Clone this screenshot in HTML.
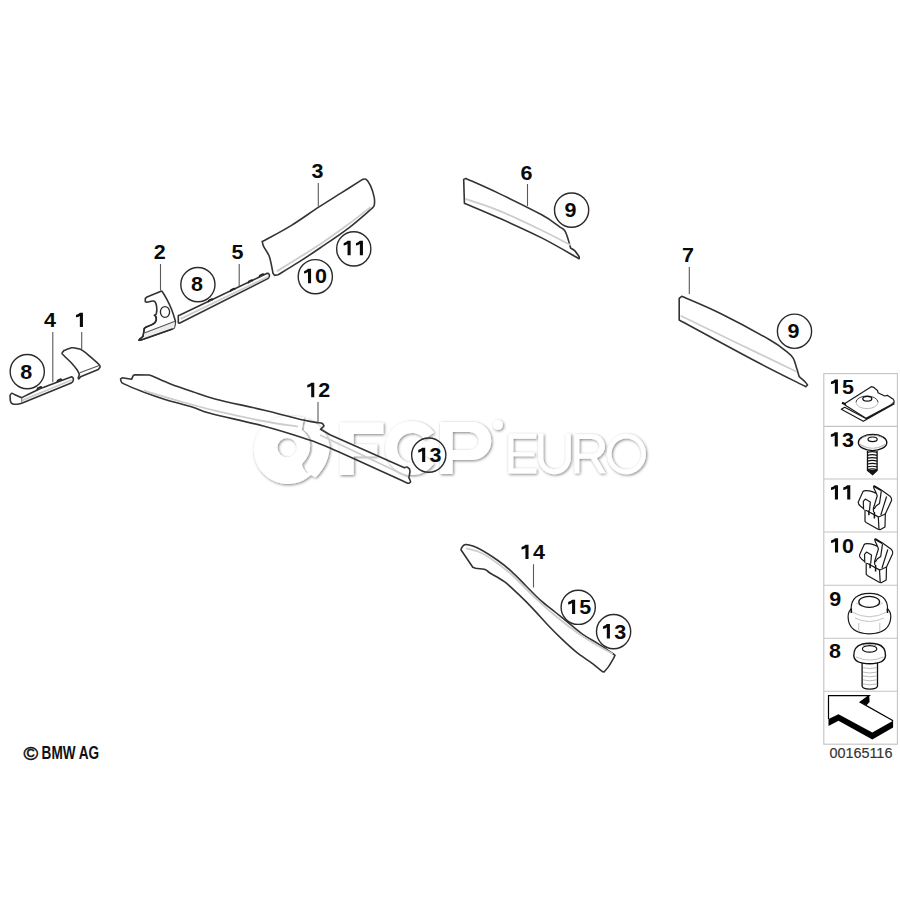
<!DOCTYPE html>
<html><head><meta charset="utf-8">
<style>
html,body{margin:0;padding:0;background:#fff;width:900px;height:900px;overflow:hidden}
svg{display:block}
.n{font-family:"Liberation Sans",sans-serif;font-weight:bold;font-size:20.5px;fill:#0a0a0a}
.ol{fill:none;stroke:#333;stroke-width:1.6;stroke-linejoin:round;stroke-linecap:round}
.ol0{fill:none;stroke:#2a2a2a;stroke-width:1.5;stroke-linejoin:round;stroke-linecap:round}
.il{fill:none;stroke:#cdcdcd;stroke-width:1.8}
.il2{fill:none;stroke:#777;stroke-width:1}
.il3{fill:none;stroke:#555;stroke-width:1.1}
.bm{fill:none;stroke:#333;stroke-width:1.6;stroke-linecap:round}
.ld{fill:none;stroke:#5a5a5a;stroke-width:1.1}
.ci{fill:none;stroke:#2a2a2a;stroke-width:1.4}
.tb{fill:none;stroke:#c4c4c4;stroke-width:1.1}
.io{fill:#fff;stroke:#1a1a1a;stroke-width:1.2;stroke-linejoin:round}
.th{fill:none;stroke:#bbb;stroke-width:1}
.th2{fill:none;stroke:#111;stroke-width:1.2}
</style></head><body>
<svg width="900" height="900" viewBox="0 0 900 900">
<defs><filter id="sh" x="-10%" y="-10%" width="120%" height="130%">
<feGaussianBlur in="SourceAlpha" stdDeviation="1.5"/><feOffset dx="1" dy="1.4" result="b"/>
<feComponentTransfer in="b" result="c"><feFuncA type="linear" slope="0.5"/></feComponentTransfer>
<feMerge><feMergeNode in="c"/><feMergeNode in="SourceGraphic"/></feMerge></filter></defs>
<rect width="900" height="900" fill="#fff"/>
<g filter="url(#sh)" fill="#fff" fill-rule="evenodd">
<path d="M287.3 416 A34 34 0 1 0 316 469 L307 473 Q300 466 302.8 463 Q311 454 310 444 Q309 436 301.7 429.8 L304 417.5 Q296 415.5 287.3 416 Z M287.2 437.9 A9.7 9.7 0 1 1 287.1 457.3 A9.7 9.7 0 1 1 287.2 437.9 Z"/>
<path d="M306 418.5 Q326 426 329.5 445.3 Q330 463 315.5 477.6 Q305 472 305 467 Q313 456 313 446 Q312 435 304 430 Z"/>
<path d="M339.9 422.6 H383.4 V434.1 H353.7 V444.3 H377.2 V456.3 H353.7 V475 H339.9 Z"/>
<path d="M434.1 432.5 A27 27 0 1 0 434.1 463.5 L424.3 456.6 A15 15 0 1 1 424.3 439.4 Z"/>
<path d="M440 422 H472.3 A19 19 0 0 1 472.3 460 H452.7 V474 H440 Z M452.7 432 V450 H469.7 A9 9 0 0 0 469.7 432 Z"/>
<circle cx="498" cy="425" r="5"/>
<path d="M508.3 433.8 H536.3 V438.8 H513.3 V452.2 H534.2 V456.3 H513.3 V468.6 H536.3 V473.4 H508.3 Z"/>
<path d="M538.3 433.8 H543.3 V458 A11.25 11.25 0 0 0 565.8 458 V433.8 H570.8 V458 A16.25 16.25 0 0 1 538.3 458 Z"/>
<path d="M574.4 434.2 H592.45 A12.25 12.25 0 0 1 596.8 458 L605.6 473.3 H599.8 L591 458.7 H579.3 V473.3 H574.4 Z M579.3 439.1 V453.8 H591.95 A7.35 7.35 0 0 0 591.95 439.1 Z"/>
<path d="M626.45 433.8 A19.55 20.2 0 1 1 626.44 474.2 A19.55 20.2 0 1 1 626.45 433.8 Z M626.45 438.45 A14.9 15.55 0 1 0 626.46 469.55 A14.9 15.55 0 1 0 626.45 438.45 Z"/>
</g>

<path class="ol" d="M10 395.6 C10.28 395.22 10.97 393.5 11.7 393.3 C12.43 393.1 13.95 394.22 14.4 394.4 L21.7 397.8 C24.47 396.4 32.2 392.08 38.3 389.4 C44.4 386.72 54.97 382.98 58.3 381.7 L71.7 376.7 C71.97 376.97 73.12 377.47 73.3 378.3 C73.48 379.13 73.25 380.87 72.8 381.7 C72.35 382.53 70.97 383.03 70.6 383.3 L21.7 403.3 C20.95 403.45 18.68 404.1 17.2 404.2 C15.72 404.3 13.9 404.32 12.8 403.9 C11.7 403.48 11.07 403.08 10.6 401.7 C10.13 400.32 10.1 396.62 10 395.6 Z"/>
<path class="il" d="M21.7 400.6  L71.7 380"/>
<path class="il2" d="M21.7 398  L21.7 403"/>
<path d="M37 390 l0.6 -2 l3.2 -1.4 l1.2 1.1 M57 382.3 l0.6 -2 l3.2 -1.4 l1.2 1.1" fill="#444" stroke="#222" stroke-width="1.3" stroke-linejoin="round"/>
<path class="ol" d="M79.4 374.4 C79.03 373.67 78.48 371.85 77.2 370 C75.92 368.15 73.73 365.52 71.7 363.3 C69.67 361.08 66.58 358.27 65 356.7 C63.42 355.13 62.67 354.55 62.2 353.9 C61.73 353.25 62.2 352.98 62.2 352.8 L63.9 350.6 C65.2 350.13 69.67 348.18 71.7 347.8 C73.73 347.42 74.25 347.83 76.1 348.3 C77.95 348.77 80.02 348.83 82.8 350.6 C85.58 352.37 90.03 356.5 92.8 358.9 C95.57 361.3 98.2 363.62 99.4 365 C100.6 366.38 99.9 366.83 100 367.2 L98.3 369.4 L80.6 376.7 C80.32 377.07 79.28 378.72 78.9 378.9 C78.52 379.08 78.22 378.55 78.3 377.8 C78.38 377.05 79.22 374.97 79.4 374.4 Z"/>
<path class="il3" d="M79.8 372.8  L99.2 365.4"/>
<path class="ol" d="M145.3 298.3 L147 297 L161 291.3 C161.22 291.37 161.3 290.3 162.3 291.7 C163.3 293.1 165.43 296.7 167 299.7 C168.57 302.7 170.37 306.37 171.7 309.7 C173.03 313.03 174.4 317.6 175 319.7 C175.6 321.8 175.42 320.97 175.3 322.3 C175.18 323.63 174.8 326.58 174.3 327.7 C173.8 328.82 172.63 328.78 172.3 329 L141.7 339.7 L139 340.3 L139.7 339 C140.25 338.55 142.23 338.08 143 336.3 C143.77 334.52 144.08 329.63 144.3 328.3 L145.7 327.3 C147.03 326.7 151.93 324.97 153.7 323.7 C155.47 322.43 155.97 320.93 156.3 319.7 C156.63 318.47 155.8 316.87 155.7 316.3 L154.3 315.3 C154.63 315.03 155.9 315.08 156.3 313.7 C156.7 312.32 156.92 309 156.7 307 C156.48 305 155.73 302.7 155 301.7 C154.27 300.7 152.75 301.12 152.3 301 L147 302.3 L145.3 301.7 L145.3 298.3 Z"/>
<ellipse cx="165" cy="312" rx="4.6" ry="5.4" fill="none" stroke="#2a2a2a" stroke-width="1.3"/>
<path d="M144.5 333 L175 321.3 L174.3 327.7 L172.3 329 L141.7 339.7 Z" fill="#ececec"/>
<path class="il3" d="M144.3 333  L175 321.3"/>
<path class="ol0" d="M143 336.3 L144.3 328.3 L145.7 327.3 C147.03 326.7 151.93 324.97 153.7 323.7 C155.47 322.43 155.97 320.93 156.3 319.7 C156.63 318.47 155.8 316.87 155.7 316.3"/>
<path class="ol0" d="M172.3 329  L141.7 339.7 L139 340.3 L139.7 339 L143 336.3"/>
<path class="ol" d="M178.3 315.6 L180 315 L267.2 273.3 C267.48 273.4 268.53 273.43 268.9 273.9 C269.27 274.37 269.5 275.37 269.4 276.1 C269.3 276.83 268.48 277.93 268.3 278.3 L179.4 323.3 L178.3 322.8 L178.3 315.6 Z"/>
<path class="il" d="M180.6 318.9  L268.3 276.7"/>
<path d="M208.1 302.3 l0.6 -2 l3.2 -1.5 l1.2 1.2" fill="#444" stroke="#222" stroke-width="1.3" stroke-linejoin="round"/>
<path d="M230.3 291.8 l0.6 -2 l3.2 -1.5 l1.2 1.2" fill="#444" stroke="#222" stroke-width="1.3" stroke-linejoin="round"/>
<path d="M248.1 283.4 l0.6 -2 l3.2 -1.5 l1.2 1.2" fill="#444" stroke="#222" stroke-width="1.3" stroke-linejoin="round"/>
<path d="M259.2 277.3 l0.6 -2 l3.2 -1.5 l1.2 1.2" fill="#444" stroke="#222" stroke-width="1.3" stroke-linejoin="round"/>
<path class="ol" d="M262.2 241.5 L264.4 240.5 C268.85 238.02 282.07 231.15 291.1 225.6 C300.13 220.05 310.17 212.7 318.6 207.2 C327.03 201.7 334.37 197.23 341.7 192.6 C349.03 187.97 359.12 181.6 362.6 179.4 C363.2 179.4 364.87 178.32 366.2 179.4 C367.53 180.48 369.27 182.9 370.6 185.9 C371.93 188.9 373.6 194.15 374.2 197.4 C374.8 200.65 374.57 203.58 374.2 205.4 C373.83 207.22 372.37 207.82 372 208.3 C368.15 211.55 357.57 221.18 348.9 227.8 C340.23 234.42 328.43 242.23 320 248 C311.57 253.77 305.28 257.95 298.3 262.4 C291.32 266.85 281.47 272.65 278.1 274.7 L274.5 275.4 L273 273.3 C272.4 270.53 270.95 261.15 269.4 256.7 C267.85 252.25 264.9 249.13 263.7 246.6 C262.5 244.07 262.45 242.35 262.2 241.5 Z"/>
<path class="il" d="M276.7 271.3 C280.25 269.13 290.78 262.8 298 258.3 C305.22 253.8 311.67 249.93 320 244.3 C328.33 238.67 339.57 230.68 348 224.5 C356.43 218.32 366.83 210.08 370.6 207.2"/>
<path class="ol" d="M463.7 179.4 L465.8 178.4 C471.22 180.85 485.65 187.03 498.3 193.1 C510.95 199.17 531.58 209.27 541.7 214.8 C551.82 220.33 555.15 223.65 559 226.3 C562.85 228.95 563.35 228.77 564.8 230.7 C566.25 232.63 566.73 235.02 567.7 237.9 C568.67 240.78 570.12 246.32 570.6 248 C571.32 248.48 573.47 249.45 574.9 250.9 C576.33 252.35 578.48 255.73 579.2 256.7 L579.2 258.8 C572.95 255.32 555.18 244.75 541.7 237.9 C528.22 231.05 511.18 223.48 498.3 217.7 C485.42 211.92 470.05 205.62 464.4 203.2 L463.7 179.4 Z"/>
<path class="il" d="M465.1 198.9 C470.63 200.82 485.82 205.3 498.3 210.4 C510.78 215.5 527.95 223.72 540 229.5 C552.05 235.28 565.5 242.5 570.6 245.1"/>
<path class="ol" d="M679.2 298.3 L681.7 296.3 C688.08 299.13 705.28 306.02 720 313.3 C734.72 320.58 758.88 333.6 770 340 C781.12 346.4 782.82 348.65 786.7 351.7 C790.58 354.75 791.63 355.53 793.3 358.3 C794.97 361.07 795.72 365.23 796.7 368.3 C797.68 371.37 798.78 375.3 799.2 376.7 C800.17 377.53 803.62 380.32 805 381.7 C806.38 383.08 807.08 384.45 807.5 385 L805.8 386.7 C797.05 382.25 774.4 371.12 753.3 360 C732.2 348.88 691.55 326.67 679.2 320 L679.2 298.3 Z"/>
<path class="il" d="M680.8 315.8 C690.67 320.58 720.68 335.18 740 344.5 C759.32 353.82 787.25 367.17 796.7 371.7"/>
<path class="ol" d="M120.6 378.9 L122.2 377.8 L131.7 379.2 C131.97 378.6 132.75 376.33 133.3 375.6 C133.85 374.87 134.72 374.93 135 374.8 L149.4 375 C150.15 375.28 150.37 375.22 153.9 376.7 C157.43 378.18 164.12 381.4 170.6 383.9 C177.08 386.4 185.4 389.2 192.8 391.7 C200.2 394.2 203.25 395.85 215 398.9 C226.75 401.95 248.58 406.48 263.3 410 C278.02 413.52 294.18 417.88 303.3 420 C312.42 422.12 315.55 422.25 318 422.7 C318.67 422.8 321 422.75 322 423.3 C323 423.85 323.67 425.55 324 426 L320.5 429.3 L330 434.7 L404.4 467.8 C404.83 467.67 406.15 466.8 407 467 C407.85 467.2 409.08 468.67 409.5 469 L410 471.7 L408.9 477.8 C409.18 478.45 410.6 480.78 410.6 481.7 C410.6 482.62 409.18 483.03 408.9 483.3 L407.8 483.3 C394.83 477.42 347.42 455.55 330 448 C312.58 440.45 314.42 441.67 303.3 438 C292.18 434.33 278.85 430.12 263.3 426 C247.75 421.88 221.75 416.43 210 413.3 C198.25 410.17 200.3 409.52 192.8 407.2 C185.3 404.88 173.33 401.98 165 399.4 C156.67 396.82 149.65 394.28 142.8 391.7 C135.95 389.12 127.52 385.67 123.9 383.9 C120.28 382.13 121.65 381.93 121.1 381.1 C120.55 380.27 120.68 379.27 120.6 378.9 Z"/>
<path class="il" d="M143.9 390.6 C149.92 392.38 168.15 397.97 180 401.3 C191.85 404.63 201.17 407.32 215 410.6 C228.83 413.88 249.17 418.32 263 421 C276.83 423.68 292.17 425.75 298 426.7"/>
<path class="il" d="M320 435  L407.8 476.7"/>
<path class="ol" d="M461.1 548.9 C461.47 548.35 462.47 546.35 463.3 545.6 C464.13 544.85 465.63 544.6 466.1 544.4 C467.95 544.97 472.02 545.2 477.2 547.8 C482.38 550.4 491.45 556.03 497.2 560 C502.95 563.97 506.88 567.27 511.7 571.6 C516.52 575.93 521.28 581.2 526.1 586 C530.92 590.8 535.78 596.07 540.6 600.4 C545.42 604.73 550.2 608.13 555 612 C559.8 615.87 564.58 619.75 569.4 623.6 C574.22 627.45 579.08 631.73 583.9 635.1 C588.72 638.47 593.25 640.55 598.3 643.8 C603.35 647.05 611.55 652.8 614.2 654.6 L615 655.3 C614.63 656.03 613.9 657.77 612.8 659.7 C611.7 661.63 609.85 664.87 608.4 666.9 C606.95 668.93 604.82 671.07 604.1 671.9 L602.7 671.8 C600.77 670.27 595.43 665.83 591.1 662.6 C586.77 659.37 581.52 656.27 576.7 652.4 C571.88 648.53 567.02 643.97 562.2 639.4 C557.38 634.83 552.62 630.05 547.8 625 C542.98 619.95 538.12 614.15 533.3 609.1 C528.48 604.05 523.72 599.27 518.9 594.7 C514.08 590.13 509.22 585.32 504.4 581.7 C499.58 578.08 493.23 575.05 490 573 C486.77 570.95 487.4 570.18 485 569.4 C482.6 568.62 477.17 568.48 475.6 568.3 L472.8 567.2 L461.1 550 L461.1 548.9 Z"/>
<path class="il" d="M466.1 548.3 C468.08 548.83 474.02 549.9 478 551.5 C481.98 553.1 484.5 554.15 490 557.9 C495.5 561.65 503.78 567.63 511 574 C518.22 580.37 525.97 589.18 533.3 596.1 C540.63 603.02 547.77 609.48 555 615.5 C562.23 621.52 570.03 627.45 576.7 632.2 C583.37 636.95 588.98 640.38 595 644 C601.02 647.62 609.83 652.25 612.8 653.9"/>

<path class="ld" d="M52.8 332 V382.2 M81.7 332 V348.9 M160.5 264 V290.5 M239.2 264 V286 M318.3 183 V206.5 M527.5 184 V206 M689.3 267 V294 M318 402 V422.5 M533.5 564.3 V587.6"/>

<circle class="ci" cx="27.25" cy="371.6" r="17.1"/>
<circle class="ci" cx="197.9" cy="284.6" r="17.1"/>
<circle class="ci" cx="353.75" cy="248.9" r="17.1"/>
<circle class="ci" cx="315.3" cy="276.7" r="17.1"/>
<circle class="ci" cx="571.6" cy="210.1" r="17.1"/>
<circle class="ci" cx="794.5" cy="331.25" r="17.1"/>
<circle class="ci" cx="428.75" cy="455.1" r="17.1"/>
<circle class="ci" cx="578.2" cy="607.3" r="17.1"/>
<circle class="ci" cx="613.6" cy="631.6" r="17.1"/>

<g class="n">
<text transform="translate(43.88 326.95) scale(1.05 1)">4</text>
<text transform="translate(153.81 259.40) scale(1.05 1)">2</text>
<text transform="translate(231.48 259.40) scale(1.05 1)">5</text>
<text transform="translate(311.51 178.30) scale(1.05 1)">3</text>
<text transform="translate(520.48 180.30) scale(1.05 1)">6</text>
<text transform="translate(681.98 261.60) scale(1.05 1)">7</text>
<text transform="translate(318.31 397.15) scale(1.05 1)">2</text>
<text transform="translate(533.08 559.10) scale(1.05 1)">4</text>
<text transform="translate(20.23 378.60) scale(1.05 1)">8</text>
<text transform="translate(190.98 291.30) scale(1.05 1)">8</text>
<text transform="translate(315.11 283.20) scale(1.05 1)">0</text>
<text transform="translate(564.58 216.80) scale(1.05 1)">9</text>
<text transform="translate(787.58 338.10) scale(1.05 1)">9</text>
<text transform="translate(429.51 462.10) scale(1.05 1)">3</text>
<text transform="translate(579.18 614.10) scale(1.05 1)">5</text>
<text transform="translate(614.21 638.50) scale(1.05 1)">3</text>
<text transform="translate(841.98 393.80) scale(1.05 1)">5</text>
<text transform="translate(842.11 446.55) scale(1.05 1)">3</text>
<text transform="translate(842.11 552.60) scale(1.05 1)">0</text>
<text transform="translate(829.18 605.50) scale(1.05 1)">9</text>
<text transform="translate(828.98 658.40) scale(1.05 1)">8</text>
</g><g fill="#0a0a0a"><path d="M79.85 312.65 L82.95 312.65 L82.95 327.05 L79.85 327.05 L79.85 315.95 Q78.35 317.05 76.25 317.35 Q75.85 317.35 75.95 316.85 L75.95 315.25 Q75.95 314.85 76.35 314.75 Q78.65 314.15 79.85 312.65 Z"/>
<path d="M311.18 382.75 L314.28 382.75 L314.28 397.15 L311.18 397.15 L311.18 386.05 Q309.68 387.15 307.58 387.45 Q307.18 387.45 307.28 386.95 L307.28 385.35 Q307.28 384.95 307.68 384.85 Q309.98 384.25 311.18 382.75 Z"/>
<path d="M525.43 544.70 L528.53 544.70 L528.53 559.10 L525.43 559.10 L525.43 548.00 Q523.93 549.10 521.83 549.40 Q521.43 549.40 521.53 548.90 L521.53 547.30 Q521.53 546.90 521.93 546.80 Q524.23 546.20 525.43 544.70 Z"/>
<path d="M347.55 240.80 L350.65 240.80 L350.65 255.20 L347.55 255.20 L347.55 244.10 Q346.05 245.20 343.95 245.50 Q343.55 245.50 343.65 245.00 L343.65 243.40 Q343.65 243.00 344.05 242.90 Q346.35 242.30 347.55 240.80 Z"/>
<path d="M359.85 240.80 L362.95 240.80 L362.95 255.20 L359.85 255.20 L359.85 244.10 Q358.35 245.20 356.25 245.50 Q355.85 245.50 355.95 245.00 L355.95 243.40 Q355.95 243.00 356.35 242.90 Q358.65 242.30 359.85 240.80 Z"/>
<path d="M307.98 268.80 L311.08 268.80 L311.08 283.20 L307.98 283.20 L307.98 272.10 Q306.48 273.20 304.38 273.50 Q303.98 273.50 304.08 273.00 L304.08 271.40 Q304.08 271.00 304.48 270.90 Q306.78 270.30 307.98 268.80 Z"/>
<path d="M422.12 447.70 L425.22 447.70 L425.22 462.10 L422.12 462.10 L422.12 451.00 Q420.62 452.10 418.52 452.40 Q418.12 452.40 418.22 451.90 L418.22 450.30 Q418.22 449.90 418.62 449.80 Q420.92 449.20 422.12 447.70 Z"/>
<path d="M572.05 599.70 L575.15 599.70 L575.15 614.10 L572.05 614.10 L572.05 603.00 Q570.55 604.10 568.45 604.40 Q568.05 604.40 568.15 603.90 L568.15 602.30 Q568.15 601.90 568.55 601.80 Q570.85 601.20 572.05 599.70 Z"/>
<path d="M606.82 624.10 L609.92 624.10 L609.92 638.50 L606.82 638.50 L606.82 627.40 Q605.32 628.50 603.22 628.80 Q602.82 628.80 602.92 628.30 L602.92 626.70 Q602.92 626.30 603.32 626.20 Q605.62 625.60 606.82 624.10 Z"/>
<path d="M834.85 379.40 L837.95 379.40 L837.95 393.80 L834.85 393.80 L834.85 382.70 Q833.35 383.80 831.25 384.10 Q830.85 384.10 830.95 383.60 L830.95 382.00 Q830.95 381.60 831.35 381.50 Q833.65 380.90 834.85 379.40 Z"/>
<path d="M834.72 432.15 L837.82 432.15 L837.82 446.55 L834.72 446.55 L834.72 435.45 Q833.22 436.55 831.12 436.85 Q830.72 436.85 830.82 436.35 L830.82 434.75 Q830.82 434.35 831.22 434.25 Q833.52 433.65 834.72 432.15 Z"/>
<path d="M834.90 485.20 L838.00 485.20 L838.00 499.60 L834.90 499.60 L834.90 488.50 Q833.40 489.60 831.30 489.90 Q830.90 489.90 831.00 489.40 L831.00 487.80 Q831.00 487.40 831.40 487.30 Q833.70 486.70 834.90 485.20 Z"/>
<path d="M847.20 485.20 L850.30 485.20 L850.30 499.60 L847.20 499.60 L847.20 488.50 Q845.70 489.60 843.60 489.90 Q843.20 489.90 843.30 489.40 L843.30 487.80 Q843.30 487.40 843.70 487.30 Q846.00 486.70 847.20 485.20 Z"/>
<path d="M834.98 538.20 L838.08 538.20 L838.08 552.60 L834.98 552.60 L834.98 541.50 Q833.48 542.60 831.38 542.90 Q830.98 542.90 831.08 542.40 L831.08 540.80 Q831.08 540.40 831.48 540.30 Q833.78 539.70 834.98 538.20 Z"/>
</g>
<rect class="tb" x="823.8" y="373.6" width="73.6" height="370.6"/>
<path class="tb" d="M824 426.4 H897.4 M824 479 H897.4 M824 532 H897.4 M824 585.3 H897.4 M824 638.2 H897.4 M824 691.3 H897.4"/>

<g class="n">
</g>
<path class="io" d="M841.3 409.3 L844.7 407.3 L866 418.5 L893.5 403 L894 404 L863.3 421.3 Z"/>
<path class="io" d="M845.3 403.3 L871.3 386.7 Q874 387 876 389.3 L877.5 390.5 L878 392.7 L884.7 396 L887.3 395.3 L891.3 398 L893.3 399.3 Q894.5 400.5 894 402.5 L866 416.5 Z"/>
<path class="io" d="M845.3 403.3 L845.3 405.3 L866 418.3 L894 403.3"/>
<path d="M842 402.7 L845.5 404.3" stroke="#111" stroke-width="2.2"/>
<path d="M856 402.3 A11 6.3 0 0 1 878 402.3" fill="none" stroke="#444" stroke-width="1"/>
<path d="M856 402.3 A11 6.3 0 0 0 878 402.3" fill="none" stroke="#bbb" stroke-width="1"/>
<ellipse cx="867.3" cy="398.8" rx="4.5" ry="2.4" fill="none" stroke="#111" stroke-width="1.3"/>
<path d="M867.5 451 V470.5 L872.6 474.6 L877.1 470.5 V451" fill="#fff" stroke="#111" stroke-width="1.3"/>
<path d="M867.5 470 L877.1 470 L872.6 474.6 Z" fill="#111"/>
<path class="th2" d="M867.5 452.4 Q872.3 451 877.1 452.4 M867.5 455.3 Q872.3 454 877.1 455.3 M867.5 458.2 Q872.3 456.9 877.1 458.2 M867.5 461.1 Q872.3 459.8 877.1 461.1 M867.5 464 Q872.3 462.7 877.1 464 M867.5 466.9 Q872.3 465.6 877.1 466.9 M867.5 469.6 Q872.3 468.3 877.1 469.6"/>
<ellipse cx="872.6" cy="442.5" rx="14.2" ry="8.1" fill="#fff" stroke="#111" stroke-width="1.4"/>
<path d="M860 444.5 Q872.6 452 885 444.5" fill="none" stroke="#c0c0c0" stroke-width="1.2"/>
<path d="M862 437.5 Q872.6 433 883 437.5" fill="none" stroke="#888" stroke-width="0.8"/>
<ellipse cx="872.6" cy="439.3" rx="4.6" ry="2.3" fill="#fff" stroke="#111" stroke-width="1.2"/>
<g transform="translate(0,0)">
<path class="io" d="M858.3 501.9 L863 491.5 Q864 490.5 866 490.6 L869.4 490.8 Q873 491.5 876.4 493.5 L873.8 488 Q873.4 485.7 874.8 486 L881.7 490.2 L890 496.2 Q892 498.5 891.5 500.5 L888.3 507.4 L885.3 514.1 L885 526.9 L880 529.7 L878.5 529.5 L866.1 522.4 L865 521.3 L865 509.7 L860.6 506.3 Q857.8 504 858.3 501.9 Z"/>
<path class="io" d="M865 509.7 L878.3 516.9 L879 529.4 M878.6 517 L885.3 514"/>
<path class="io" d="M863.6 509.5 L863.3 501.3 L865.3 499.1 L870.3 501.9 L869.5 510.5"/>
<path class="io" d="M876.6 493.8 L877.2 496 L873.3 508.6 L873.6 512 M881.3 491.2 L879.5 503.5 L876 506 L874.2 509 M886.6 496.5 L880.8 515"/>
<path d="M868.9 510.2 V515.3 M874.4 511.9 V518.6 M873.3 486.2 L881 490.4" fill="none" stroke="#111" stroke-width="1.5"/>
</g>
<g transform="translate(1.2,53)">
<path class="io" d="M858.3 501.9 L863 491.5 Q864 490.5 866 490.6 L869.4 490.8 Q873 491.5 876.4 493.5 L873.8 488 Q873.4 485.7 874.8 486 L881.7 490.2 L890 496.2 Q892 498.5 891.5 500.5 L888.3 507.4 L885.3 514.1 L885 526.9 L880 529.7 L878.5 529.5 L866.1 522.4 L865 521.3 L865 509.7 L860.6 506.3 Q857.8 504 858.3 501.9 Z"/>
<path class="io" d="M865 509.7 L878.3 516.9 L879 529.4 M878.6 517 L885.3 514"/>
<path class="io" d="M863.6 509.5 L863.3 501.3 L865.3 499.1 L870.3 501.9 L869.5 510.5"/>
<path class="io" d="M876.6 493.8 L877.2 496 L873.3 508.6 L873.6 512 M881.3 491.2 L879.5 503.5 L876 506 L874.2 509 M886.6 496.5 L880.8 515"/>
<path d="M868.9 510.2 V515.3 M874.4 511.9 V518.6 M873.3 486.2 L881 490.4" fill="none" stroke="#111" stroke-width="1.5"/>
</g>
<path class="io" d="M851.1 609 Q851 593.5 869.4 593.3 Q887.6 593.5 887.6 609 Q891 612 890.8 617 Q890 633.5 869.4 633.8 Q848.5 633.5 848.1 617 Q848 612 851.1 609 Z" stroke-width="1.4"/>
<path d="M851.3 608.5 V613 M887.4 608.5 V613" stroke="#111" stroke-width="1.6"/>
<path d="M852 612 Q869 621.5 887 612 M855 618 Q869 625 884 618 M858.8 623 V631.5 M879.8 623 V631.5" fill="none" stroke="#c4c4c4" stroke-width="1"/>
<path d="M856 603 Q869 612 883 603" fill="none" stroke="#ccc" stroke-width="1"/>
<ellipse cx="869.2" cy="601.9" rx="10.4" ry="5.5" fill="none" stroke="#111" stroke-width="1.3"/>
<path d="M862.1 662 V686 Q862.3 689.1 869.8 689.1 Q877.3 689.1 877.5 686 V662" fill="#fff" stroke="#111" stroke-width="1.3"/>
<path class="th" d="M863 667.7 Q869.8 669.5 876.8 667.7 M863 672.1 Q869.8 673.9 876.8 672.1 M863 675.9 Q869.8 677.7 876.8 675.9 M863 679.9 Q869.8 681.7 876.8 679.9 M863 683.9 Q869.8 685.7 876.8 683.9"/>
<path d="M853.8 655.5 Q853.8 646.5 861.5 644.3 Q869.6 642.2 877.7 644.3 Q885.5 646.5 885.5 655.5 Q885 663.7 869.6 663.7 Q854.2 663.7 853.8 655.5 Z" fill="#fff" stroke="#111" stroke-width="1.4"/>
<path d="M856 657 Q869.6 663 883.5 657" fill="none" stroke="#c4c4c4" stroke-width="1.1"/>
<ellipse cx="869.6" cy="648.9" rx="7.2" ry="3.3" fill="none" stroke="#111" stroke-width="1.2"/>
<path d="M863 645.6 Q869.6 643.5 876.3 645.6" fill="none" stroke="#999" stroke-width="0.8"/>
<path d="M828.5 719 L838.5 714.3 L872.3 732.5 L893.1 720.8 L893.1 727.5 L872.3 739.5 L838.5 720.8 L828.5 726 Z" fill="#000"/>
<path d="M860.1 702.1 L869.2 695.6 L869.6 702 L866.5 705.3 Z" fill="#000"/>
<path d="M828.5 719 L828.5 695.6 L869.2 695.6 L860.1 702.1 L893.1 720.8" fill="none" stroke="#000" stroke-width="1.2" stroke-linejoin="miter"/>

<text x="23.6" y="759.6" font-family="Liberation Sans" font-size="19" fill="#111" stroke="#111" stroke-width="0.5" textLength="14.6" lengthAdjust="spacingAndGlyphs">©</text>
<text x="41.6" y="759.3" font-family="Liberation Sans" font-weight="bold" font-size="18" fill="#111" textLength="57.6" lengthAdjust="spacingAndGlyphs">BMW AG</text>
<text x="829.4" y="758.4" font-family="Liberation Sans" font-size="14" fill="#333" stroke="#333" stroke-width="0.15" textLength="63" lengthAdjust="spacingAndGlyphs">00165116</text>
</svg>
</body></html>
